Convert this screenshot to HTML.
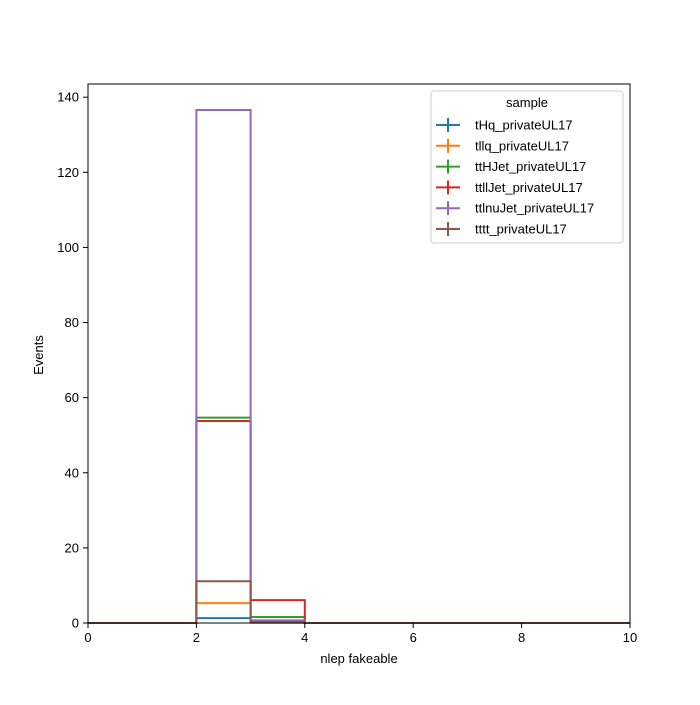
<!DOCTYPE html>
<html><head><meta charset="utf-8"><style>
body{margin:0;background:#fff}
svg text{font-family:"Liberation Sans","DejaVu Sans",sans-serif;fill:#000}
</style></head><body>
<svg id="c" width="700" height="700" xmlns="http://www.w3.org/2000/svg">
<rect width="700" height="700" fill="#fff"/>
<g id="plot"></g>
<rect x="88" y="84" width="542" height="539" fill="none" stroke="#000" stroke-width="1"/>
<g id="axes"></g>
<text x="359" y="663" font-size="13" text-anchor="middle">nlep fakeable</text>
<text x="0" y="0" font-size="13" text-anchor="middle" transform="translate(43,355) rotate(-90)">Events</text>
<g id="legend">
<rect x="431" y="91" width="192" height="152" rx="3" fill="#fff" fill-opacity="0.8" stroke="#ccc"/>
<text x="527" y="107" font-size="13" text-anchor="middle">sample</text>
</g>
</svg>
<script>
const samples=["tHq_privateUL17","tllq_privateUL17","ttHJet_privateUL17","ttllJet_privateUL17","ttlnuJet_privateUL17","tttt_privateUL17"];
const colors=["#1f77b4","#ff7f0e","#2ca02c","#d62728","#9467bd","#8c564b"];
const binEdges=[0,1,2,3,4,5,6,7,8,9,10];
const tHq=[0,0,1.3,0.1,0,0,0,0,0,0];
const tllq=[0,0,5.3,0.1,0,0,0,0,0,0];
const ttH=[0,0,54.7,1.6,0,0,0,0,0,0];
const ttll=[0,0,53.8,6.1,0,0,0,0,0,0];
const ttlnu=[0,0,136.6,0.7,0,0,0,0,0,0];
const tttt=[0,0,11.1,0.3,0,0,0,0,0,0];
const series=[tHq,tllq,ttH,ttll,ttlnu,tttt];
const xTicks=[0,2,4,6,8,10];
const yTicks=[0,20,40,60,80,100,120,140];
const NS="http://www.w3.org/2000/svg";
const X=v=>88+v*54.2;
const Y=v=>623-v*3.7557;
const plot=document.getElementById('plot');
series.forEach((s,i)=>{
  let d="M"+X(binEdges[0])+","+Y(0);
  s.forEach((v,j)=>{d+=" L"+X(binEdges[j])+","+Y(v)+" L"+X(binEdges[j+1])+","+Y(v);});
  d+=" L"+X(binEdges[binEdges.length-1])+","+Y(0);
  const p=document.createElementNS(NS,'path');
  p.setAttribute('d',d);p.setAttribute('fill','none');p.setAttribute('stroke',colors[i]);p.setAttribute('stroke-width','2');
  
  
  plot.appendChild(p);
});
const ax=document.getElementById('axes');
xTicks.forEach(t=>{
  const l=document.createElementNS(NS,'line');
  l.setAttribute('x1',X(t));l.setAttribute('x2',X(t));l.setAttribute('y1',623);l.setAttribute('y2',628);l.setAttribute('stroke','#000');
  
  
  ax.appendChild(l);
  const tx=document.createElementNS(NS,'text');
  tx.setAttribute('x',X(t));tx.setAttribute('y',642);tx.setAttribute('font-size','13');tx.setAttribute('text-anchor','middle');tx.textContent=t;
  
  
  ax.appendChild(tx);
});
yTicks.forEach(t=>{
  const l=document.createElementNS(NS,'line');
  l.setAttribute('x1',83);l.setAttribute('x2',88);l.setAttribute('y1',Y(t));l.setAttribute('y2',Y(t));l.setAttribute('stroke','#000');
  
  
  ax.appendChild(l);
  const tx=document.createElementNS(NS,'text');
  tx.setAttribute('x',79);tx.setAttribute('y',Y(t)+4.5);tx.setAttribute('font-size','13');tx.setAttribute('text-anchor','end');tx.textContent=t;
  
  
  ax.appendChild(tx);
});
const lg=document.getElementById('legend');
samples.forEach((s,i)=>{
  const y=125+i*20.8;
  const g=document.createElementNS(NS,'g');
  
  
  g.innerHTML=`<line x1="436" x2="460" y1="${y}" y2="${y}" stroke="${colors[i]}" stroke-width="2"/><line x1="448" x2="448" y1="${y-7}" y2="${y+7}" stroke="${colors[i]}" stroke-width="2"/><text x="475" y="${y+4.5}" font-size="13">${s}</text>`;
  lg.appendChild(g);
});
</script>
</body></html>
